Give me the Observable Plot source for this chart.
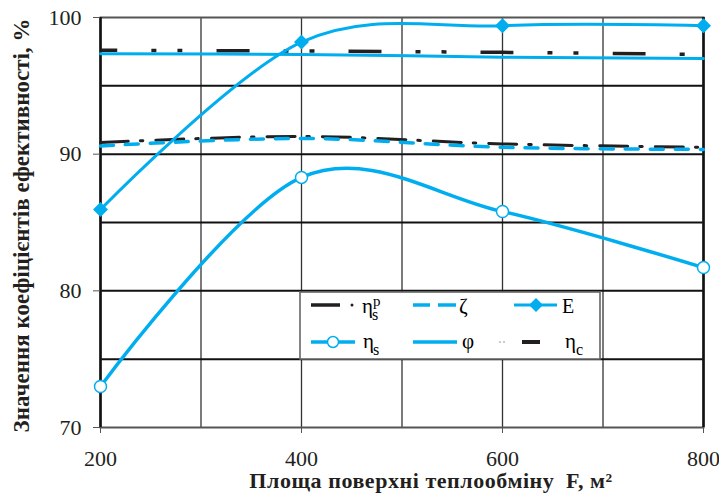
<!DOCTYPE html>
<html>
<head>
<meta charset="utf-8">
<script src="https://cdn.jsdelivr.net/npm/d3@7"></script>
<script src="https://cdn.jsdelivr.net/npm/@observablehq/plot@0.6"></script>
<style>
  html, body { margin: 0; padding: 0; background: #fff; }
  #wrap { position: relative; width: 719px; height: 504px; overflow: hidden; }
  #legend { position: absolute; left: 299px; top: 291px; width: 302px; height: 69px; }
</style>
</head>
<body>
<div id="wrap"></div>
<script>
// ---- data ----
const F = [200, 400, 600, 800];               // heat-exchange surface, m²
const etaSp = [90.85, 91.3, 90.75, 90.5];     // η_s^p
const zeta  = [90.6, 91.15, 90.5, 90.35];     // ζ
const E     = [85.95, 98.2, 99.4, 99.4];      // E
const etaS  = [73.0, 88.3, 85.8, 81.7];       // η_s
const phi   = [97.35, 97.3, 97.1, 97.0];      // φ
const etaC  = [97.6, 97.55, 97.45, 97.3];     // η_c

const xTicks = [200, 400, 600, 800];
const yTicks = [70, 80, 90, 100];
const xGrid = [300, 400, 500, 600, 700];
const yGrid = [75, 80, 85, 90, 95];

const xTitle = "Площа поверхні теплообміну\u2002F, м²";
const yTitle = "Значення коефіцієнтів ефективності, %";

const BLUE = "#00aeef";
const BLACK = "#231f20";

const rows = (ys) => F.map((f, i) => ({x: f, y: ys[i]}));

const chart = Plot.plot({
  width: 719,
  height: 504,
  marginLeft: 100,
  marginRight: 16,
  marginTop: 17,
  marginBottom: 77,
  style: {fontFamily: "'Liberation Serif', 'Times New Roman', serif", fontSize: "22px", color: "#231f20", background: "#fff"},
  x: {domain: [200, 800]},
  y: {domain: [70, 100]},
  marks: [
    Plot.ruleX(xGrid, {stroke: "#333", strokeWidth: 1.3}),
    Plot.ruleY(yGrid, {stroke: "#111", strokeWidth: 2}),
    Plot.frame({stroke: "#555", strokeWidth: 2}),
    Plot.ruleX([200], {stroke: "#111", strokeWidth: 2.5}),
    Plot.ruleX([800], {stroke: "#111", strokeWidth: 2.5}),
    Plot.axisY({ticks: yTicks, tickSize: 7, tickPadding: 12, label: null, stroke: "#555"}),
    Plot.axisX({ticks: xTicks, tickSize: 6, tickPadding: 17, label: null, stroke: "#555"}),
    // series
    Plot.line(rows(etaC), {x: "x", y: "y", curve: "cardinal", stroke: BLACK, strokeWidth: 3.5, strokeDasharray: "33,34,5,21,5,34", strokeDashoffset: 16, strokeLinecap: "butt"}),
    Plot.line(rows(phi), {x: "x", y: "y", curve: "cardinal", stroke: BLUE, strokeWidth: 3}),
    Plot.line(rows(etaSp), {x: "x", y: "y", curve: "cardinal", stroke: BLACK, strokeWidth: 3, strokeDasharray: "28,12,2.5,13"}),
    Plot.line(rows(zeta), {x: "x", y: "y", curve: "cardinal", stroke: BLUE, strokeWidth: 3.5, strokeDasharray: "13,12"}),
    Plot.line(rows(E), {x: "x", y: "y", curve: "cardinal", stroke: BLUE, strokeWidth: 3}),
    Plot.dot(rows(E), {x: "x", y: "y", symbol: "diamond2", r: 5.8, fill: BLUE, stroke: BLUE}),
    Plot.line(rows(etaS), {x: "x", y: "y", curve: "cardinal", stroke: BLUE, strokeWidth: 3.5}),
    Plot.dot(rows(etaS), {x: "x", y: "y", r: 6, fill: "#fff", stroke: BLUE, strokeWidth: 1.5}),
    // axis titles
    Plot.text([xTitle], {frameAnchor: "bottom", textAnchor: "middle", lineAnchor: "middle", dx: 29, dy: 53, fontWeight: "bold", fontSize: 22, text: d => d}),
    Plot.text([yTitle], {frameAnchor: "left", textAnchor: "middle", lineAnchor: "middle", dx: -79, dy: 3, rotate: -90, fontWeight: "bold", fontSize: 23, text: d => d})
  ]
});

// widen the x-axis title's letter spacing slightly to match the reference
for (const t of chart.querySelectorAll("text")) {
  if (t.textContent === xTitle) t.setAttribute("letter-spacing", "0.55");
}

const wrap = document.getElementById("wrap");
wrap.appendChild(chart);

// ---- legend ----
const legend = document.createElement("div");
legend.id = "legend";
legend.innerHTML = `
<svg width="302" height="69" xmlns="http://www.w3.org/2000/svg" style="font-family:'Liberation Serif','Times New Roman',serif">
  <rect x="1" y="1" width="300" height="67" fill="#fff" stroke="#666" stroke-width="1.6"/>
  <!-- row 1 -->
  <line x1="12" x2="41" y1="14" y2="14" stroke="${BLACK}" stroke-width="3.5"/>
  <circle cx="53" cy="14" r="1.5" fill="${BLACK}"/>
  <text x="63" y="22" font-size="21">η</text>
  <text x="73" y="29" font-size="16">s</text>
  <text x="74" y="15" font-size="15">p</text>

  <line x1="114" x2="131" y1="14" y2="14" stroke="${BLUE}" stroke-width="3.5"/>
  <line x1="139" x2="157" y1="14" y2="14" stroke="${BLUE}" stroke-width="3.5"/>
  <text x="160" y="22" font-size="21">ζ</text>

  <line x1="215" x2="258" y1="14" y2="14" stroke="${BLUE}" stroke-width="3"/>
  <path d="M237,7 L244,14 L237,21 L230,14 Z" fill="${BLUE}"/>
  <text x="263" y="22" font-size="20">E</text>

  <!-- row 2 -->
  <line x1="12" x2="56" y1="51" y2="51" stroke="${BLUE}" stroke-width="3.5"/>
  <circle cx="34" cy="51" r="5.5" fill="#fff" stroke="${BLUE}" stroke-width="1.5"/>
  <text x="64" y="57" font-size="21">η</text>
  <text x="74" y="64" font-size="16">s</text>

  <line x1="114" x2="158" y1="51" y2="51" stroke="${BLUE}" stroke-width="3.5"/>
  <text x="163" y="57" font-size="21">φ</text>

  <line x1="200" x2="202" y1="51" y2="51" stroke="#ccc" stroke-width="2"/>
  <line x1="204" x2="206" y1="51" y2="51" stroke="#ccc" stroke-width="2"/>
  <line x1="223" x2="241" y1="51" y2="51" stroke="${BLACK}" stroke-width="4"/>
  <text x="266" y="57" font-size="21">η</text>
  <text x="277" y="64" font-size="16">c</text>
</svg>`;
wrap.appendChild(legend);
</script>
</body>
</html>
